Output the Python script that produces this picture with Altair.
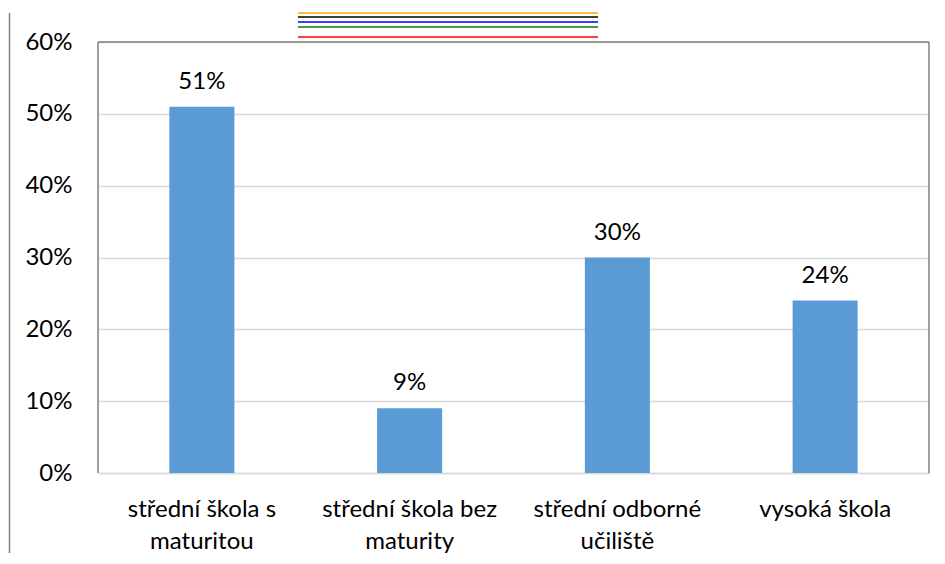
import altair as alt
import pandas as pd

categories = ["střední škola s maturitou", "střední škola bez maturity",
              "střední odborné učiliště", "vysoká škola"]
label_lines = [["střední škola s", "maturitou"], ["střední škola bez", "maturity"],
               ["střední odborné", "učiliště"], ["vysoká škola"]]
values = [0.51, 0.09, 0.30, 0.24]
y_ticks = [0, 0.1, 0.2, 0.3, 0.4, 0.5, 0.6]

df = pd.DataFrame({"cat": categories, "val": values})
one = pd.DataFrame({"a": [0]})

expr = "''"
for c, lines in reversed(list(zip(categories, label_lines))):
    arr = "[" + ",".join("'" + l + "'" for l in lines) + "]"
    expr = f"datum.label == '{c}' ? {arr} : ({expr})"

FONT = "Lato"
FS = 24
W, H = 831, 431

x = alt.X("cat:N", sort=categories, title=None,
          scale=alt.Scale(paddingInner=0.687, paddingOuter=0.3435),
          axis=alt.Axis(labelAngle=0, labelExpr=expr, labelFontSize=FS, labelColor="#000000",
                        labelFont=FONT, ticks=False, domainColor="#d9d9d9", domainWidth=1.5,
                        labelPadding=24, labelLineHeight=32, labelBaseline="top", labelLimit=300))
y = alt.Y("val:Q", title=None,
          scale=alt.Scale(domain=[0, 0.6], nice=False),
          axis=alt.Axis(values=y_ticks, format=".0%", labelFontSize=FS, labelColor="#000000",
                        labelFont=FONT, ticks=False, domain=False, gridColor="#d9d9d9",
                        gridWidth=1.3, labelPadding=26))

bars = alt.Chart(df).mark_bar(color="#5b9bd5").encode(x=x, y=y)
text = alt.Chart(df).mark_text(dy=-13, baseline="bottom", fontSize=FS, font=FONT,
                               color="#000000").encode(
    x=alt.X("cat:N", sort=categories), y="val:Q", text=alt.Text("val:Q", format=".0%"))

def rule(x1, x2, y1, y2, color="#808080", w=1.5):
    return alt.Chart(one).mark_rule(color=color, strokeWidth=w, clip=False).encode(
        x=alt.value(x1), x2=alt.value(x2), y=alt.value(y1), y2=alt.value(y2))

dbg = [rule(200, 500, -5, -5, "red"), rule(200, 500, -15, -15, "green"),
       rule(200, 500, -20, -20, "blue"), rule(200, 500, -25, -25, "black"),
       rule(200, 500, -29, -29, "orange")]
plot_top = rule(0, W, 0, 0)
plot_left = rule(0, 0, 0, H)
plot_right = rule(W, W, 0, H)
outer_left = rule(-88.5, -88.5, -29, 600)

chart = alt.layer(bars, text, plot_top, plot_left, plot_right, outer_left, *dbg).properties(
    width=W, height=H,
    autosize=alt.AutoSizeParams(type="none"),
    padding={"left": 90, "top": 34, "right": 4, "bottom": 80},
).configure_view(strokeWidth=0)

chart.save("out.html", embed_options={"renderer": "svg", "actions": False})
